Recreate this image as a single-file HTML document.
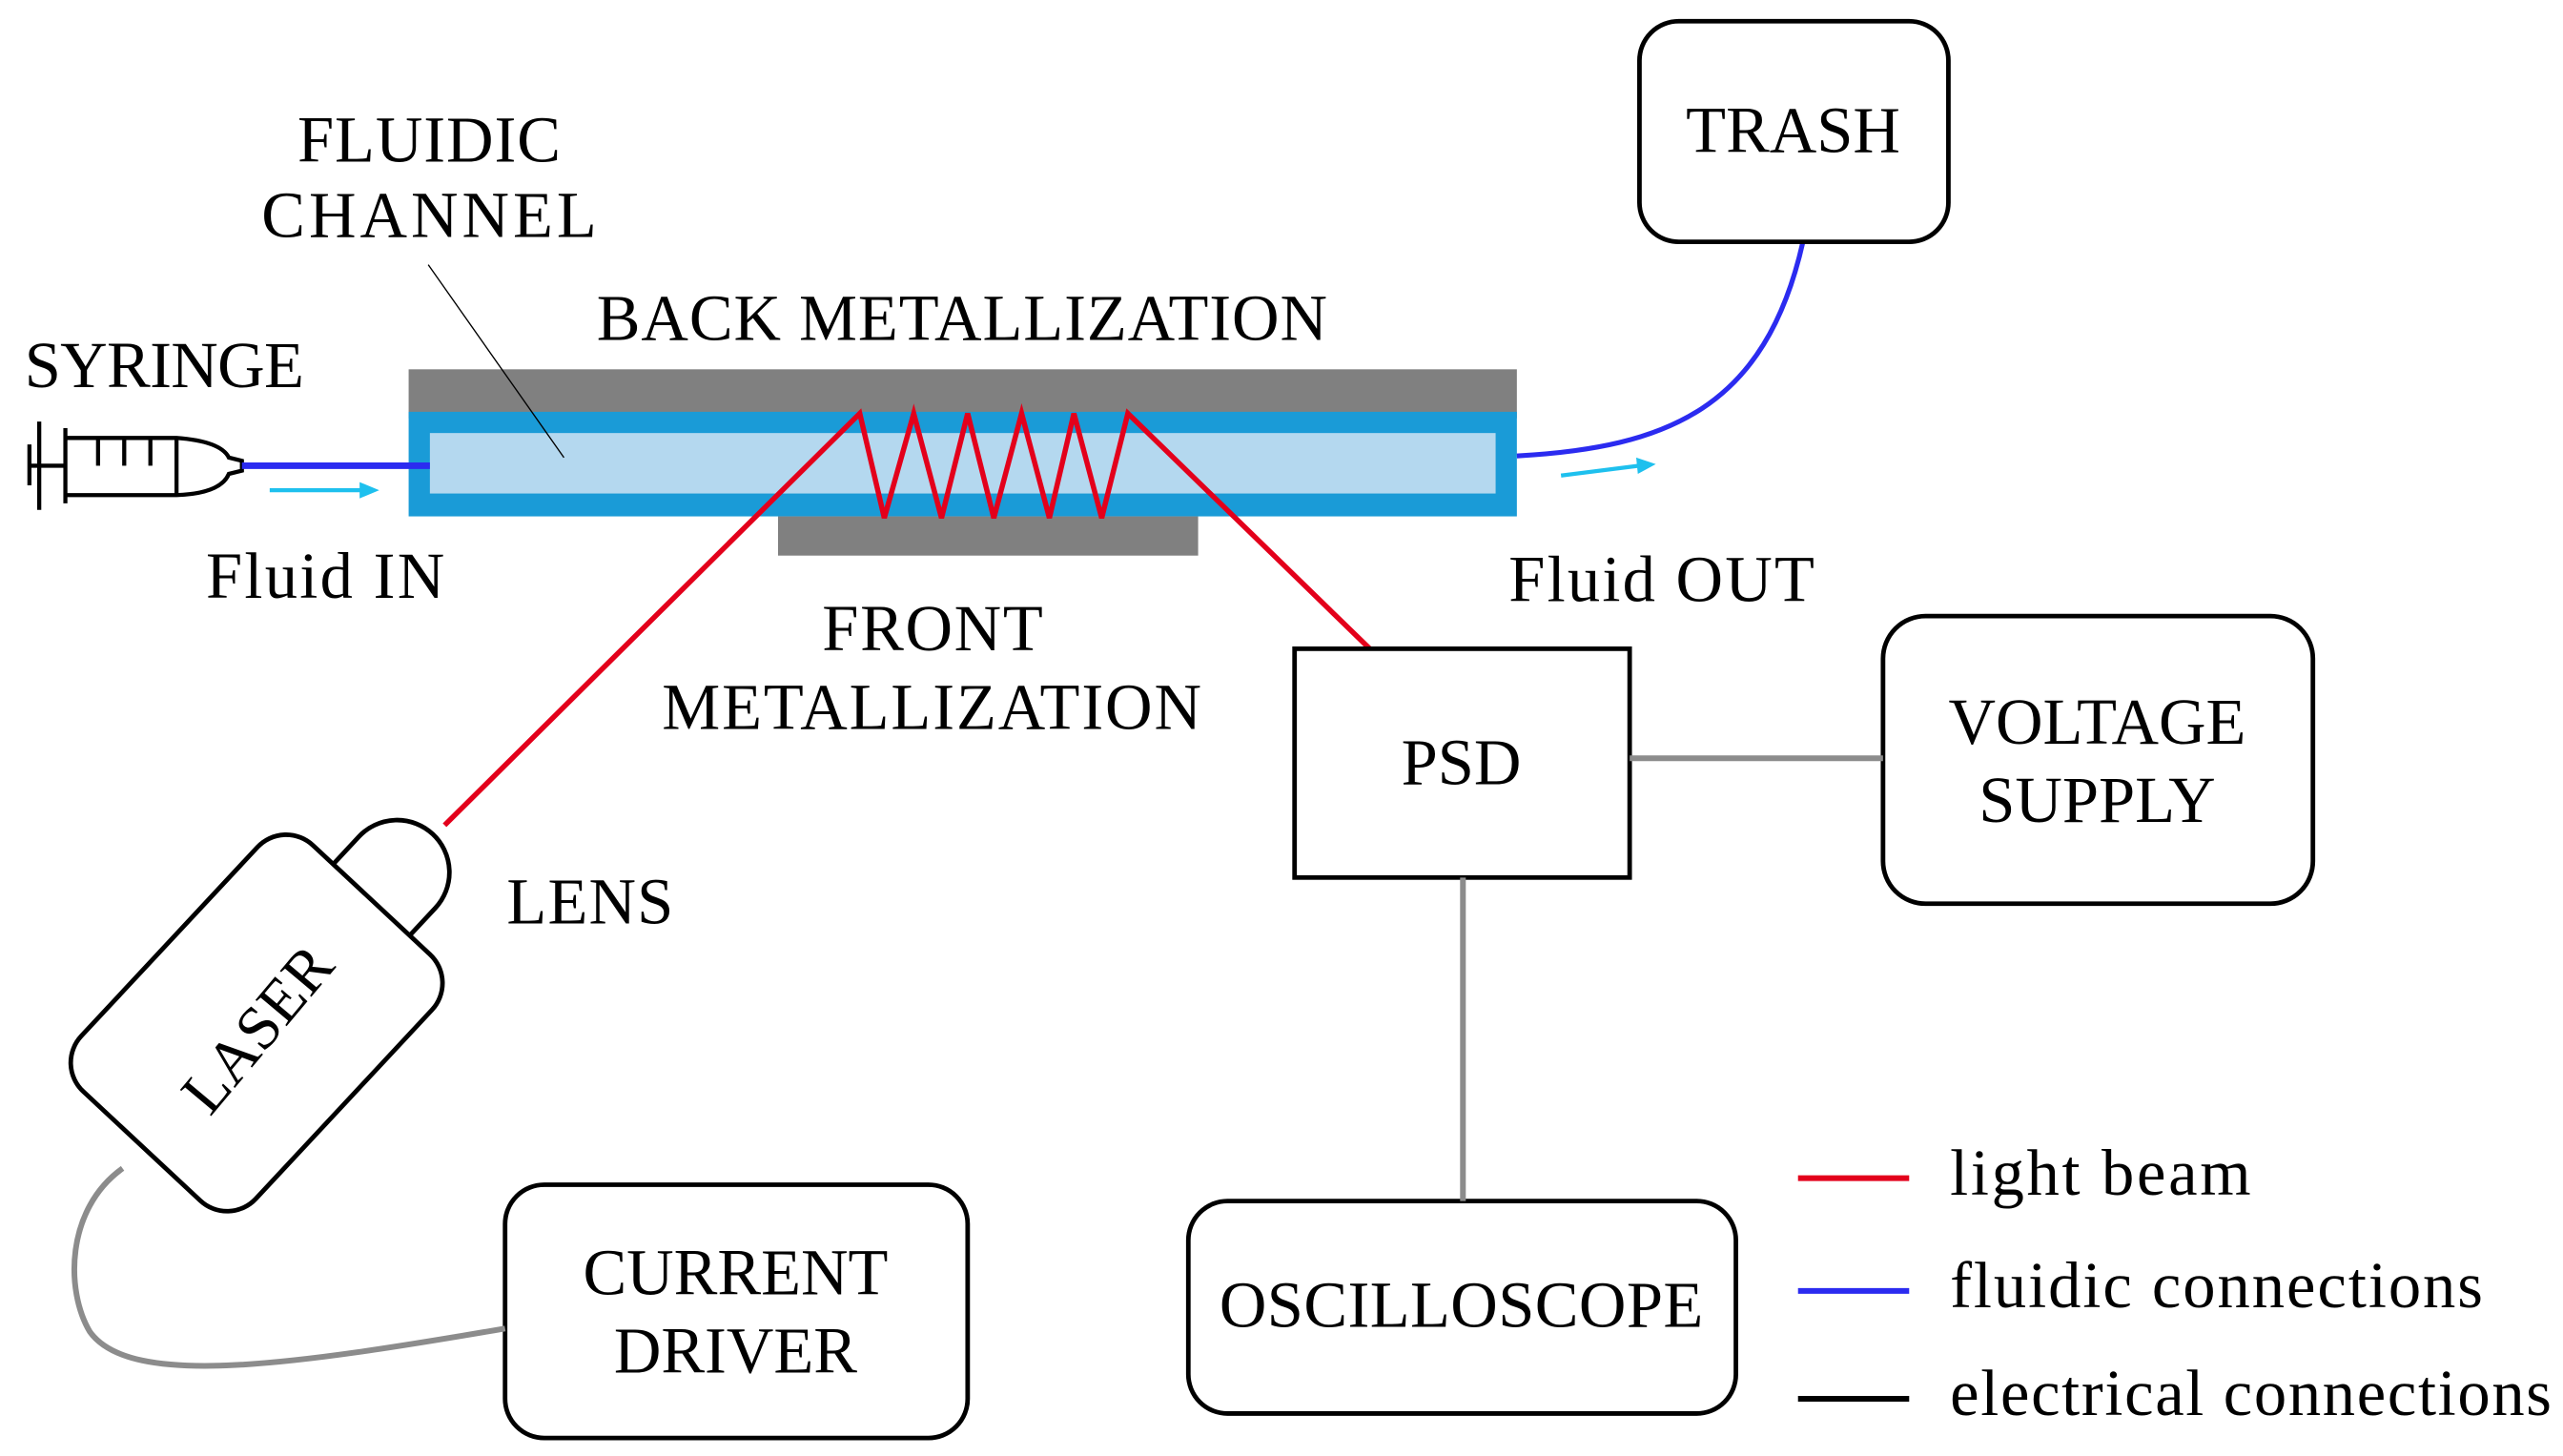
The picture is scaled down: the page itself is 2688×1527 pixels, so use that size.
<!DOCTYPE html>
<html><head><meta charset="utf-8"><style>html,body{margin:0;padding:0;background:#fff}svg{display:block}</style></head>
<body>
<svg width="2688" height="1527" viewBox="0 0 1568 891" preserveAspectRatio="none" xmlns="http://www.w3.org/2000/svg" font-family="Liberation Serif, serif" font-size="40" fill="#000">
<!-- channel -->
<rect x="250" y="226" width="678" height="30" fill="#808080"/>
<rect x="250" y="252" width="678" height="64" fill="#1a9bd7"/>
<rect x="263" y="265" width="652" height="37" fill="#b4d8ef"/>
<rect x="476" y="316" width="257" height="24" fill="#808080"/>
<line x1="262" y1="162" x2="345" y2="280" stroke="#000" stroke-width="0.8"/>
<!-- beam -->
<polyline points="272,505 526,253 541,317 559,253 576,317 592,253 608,317 625,253 642,317 657,253 674,317 690,253 838,397" fill="none" stroke="#e3001b" stroke-width="3.2" stroke-linejoin="miter"/>
<!-- syringe -->
<g fill="none" stroke="#000" stroke-width="2.5">
<line x1="24" y1="258" x2="24" y2="312"/>
<line x1="18" y1="272" x2="18" y2="297"/>
<line x1="18" y1="285" x2="40" y2="285"/>
<line x1="40" y1="262" x2="40" y2="308"/>
<path d="M40 268 H108 Q135 270 140 280 L148 282 L148 288 L140 290 Q135 302 108 303 H40"/>
<line x1="108" y1="268" x2="108" y2="303"/>
<line x1="60" y1="268" x2="60" y2="285"/><line x1="76" y1="268" x2="76" y2="285"/><line x1="92" y1="268" x2="92" y2="285"/>
</g>
<line x1="148" y1="285" x2="263" y2="285" stroke="#2b2bf0" stroke-width="4"/>
<line x1="165" y1="300" x2="222" y2="300" stroke="#1ec0ee" stroke-width="2.5"/>
<polygon points="220,295 232,300 220,305" fill="#1ec0ee"/>
<path d="M928 279 C1020 274 1080 250 1103 148" fill="none" stroke="#2b2bf0" stroke-width="3"/>
<line x1="955" y1="291" x2="1003" y2="285" stroke="#1ec0ee" stroke-width="2.5"/>
<polygon points="1001,280 1013,284 1002,290" fill="#1ec0ee"/>
<!-- boxes -->
<g fill="none" stroke="#000" stroke-width="2.8">
<rect x="1003" y="13" width="189" height="135" rx="24"/>
<rect x="792" y="397" width="205" height="140"/>
<rect x="1152" y="377" width="263" height="176" rx="26"/>
<rect x="727" y="735" width="335" height="130" rx="24"/>
<rect x="309" y="725" width="283" height="155" rx="24"/>
</g>
<g stroke="#8c8c8c" stroke-width="3.5" fill="none">
<line x1="997" y1="464" x2="1152" y2="464"/>
<line x1="895" y1="537" x2="895" y2="735"/>
<path d="M75 715 C40 740 40 790 55 815 C80 850 180 835 309 813"/>
</g>
<!-- laser -->
<g transform="translate(157,626) rotate(-47)" fill="#fff" stroke="#000" stroke-width="2.8">
<path d="M95 -32 H126 A32 32 0 0 1 126 32 H95 Z"/>
<rect x="-103" y="-73" width="206" height="146" rx="24"/>
</g>
<text x="158" y="642" text-anchor="middle" transform="rotate(-50 158 630)" font-size="38">LASER</text>
<!-- texts -->
<text x="182" y="99" textLength="161">FLUIDIC</text>
<text x="160" y="145" textLength="205">CHANNEL</text>
<text x="365" y="208" textLength="447">BACK METALLIZATION</text>
<text x="15" y="237" textLength="171">SYRINGE</text>
<text x="126" y="366" textLength="146">Fluid IN</text>
<text x="503" y="398" textLength="135">FRONT</text>
<text x="405" y="446" textLength="330">METALLIZATION</text>
<text x="923" y="368" textLength="187">Fluid OUT</text>
<text x="310" y="565" textLength="102">LENS</text>
<text x="1097" y="93" text-anchor="middle">TRASH</text>
<text x="894" y="480" text-anchor="middle">PSD</text>
<text x="1283" y="455" text-anchor="middle">VOLTAGE</text>
<text x="1283" y="503" text-anchor="middle">SUPPLY</text>
<text x="894" y="812" text-anchor="middle" textLength="296">OSCILLOSCOPE</text>
<text x="450" y="792" text-anchor="middle">CURRENT</text>
<text x="450" y="840" text-anchor="middle">DRIVER</text>
<!-- legend -->
<line x1="1100" y1="721" x2="1168" y2="721" stroke="#e3001b" stroke-width="3.5"/>
<line x1="1100" y1="790" x2="1168" y2="790" stroke="#2b2bf0" stroke-width="3.5"/>
<line x1="1100" y1="856" x2="1168" y2="856" stroke="#000" stroke-width="3.5"/>
<text x="1193" y="731" textLength="184">light beam</text>
<text x="1193" y="800" textLength="326">fluidic connections</text>
<text x="1193" y="866" textLength="368">electrical connections</text>
</svg>
</body></html>
